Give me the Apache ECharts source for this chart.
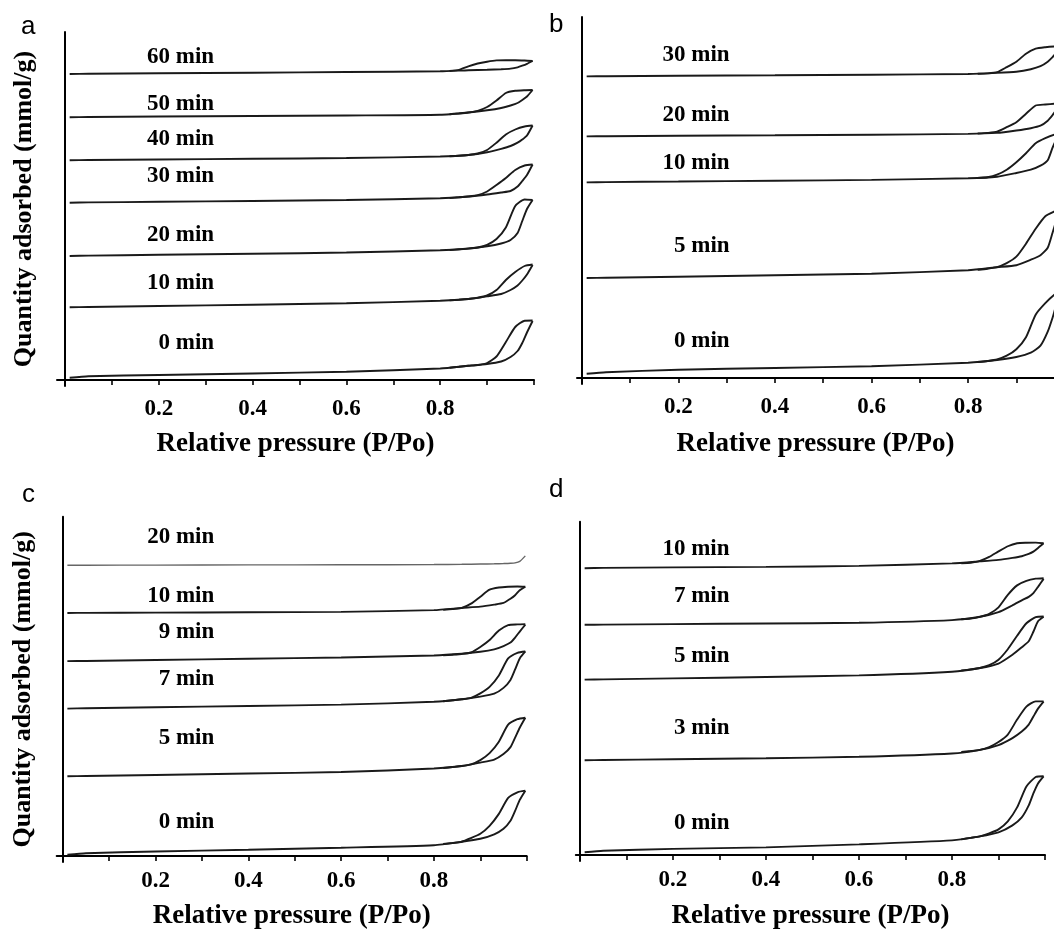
<!DOCTYPE html>
<html><head><meta charset="utf-8">
<script src="https://cdn.jsdelivr.net/npm/echarts@6/dist/echarts.min.js"></script>
<style>html,body{margin:0;padding:0;background:#fff}#c{width:1054px;height:931px}</style>
</head><body><div id="c"></div>
<script>
// Relative pressure grids shared by all isotherms
const adsX = [0.01, 0.05, 0.2, 0.4, 0.6, 0.8, 0.86, 0.9, 0.93, 0.95, 0.965, 0.975, 0.985, 0.997];
const desX = [0.997, 0.98, 0.96, 0.94, 0.92, 0.9, 0.88, 0.86, 0.84, 0.82];
const tickValues = [0.1, 0.2, 0.3, 0.4, 0.5, 0.6, 0.7, 0.8, 0.9, 1.0];
const tickLabels = [0.2, 0.4, 0.6, 0.8];

// Panel a
const aNames = ['60 min', '50 min', '40 min', '30 min', '20 min', '10 min', '0 min'];
const aAds = [
  [30.60,30.62,30.67,30.73,30.80,30.87,30.98,31.03,31.08,31.14,31.27,31.43,31.62,31.90],
  [26.27,26.30,26.35,26.40,26.45,26.52,26.75,26.97,27.20,27.45,27.70,28.00,28.35,29.00],
  [21.97,22.00,22.05,22.12,22.20,22.35,22.50,22.77,23.12,23.40,23.73,24.05,24.45,25.45],
  [17.73,17.76,17.82,17.90,18.00,18.17,18.35,18.55,18.75,18.90,19.35,19.90,20.50,21.55],
  [12.40,12.44,12.52,12.62,12.75,12.97,13.15,13.37,13.65,14.00,14.70,15.90,17.10,18.00],
  [7.27,7.30,7.40,7.53,7.67,7.92,8.10,8.37,8.60,9.00,9.45,9.95,10.55,11.50],
  [0.22,0.37,0.50,0.65,0.83,1.15,1.42,1.60,1.85,2.30,2.90,3.70,4.75,5.90]
];
const aDes = [
  [31.90,31.95,31.98,31.98,31.96,31.83,31.65,31.37,31.02,30.90],
  [29.00,28.98,28.92,28.70,27.95,27.30,26.92,26.75,26.65,26.57],
  [25.45,25.35,25.05,24.55,23.73,23.00,22.65,22.50,22.42,22.37],
  [21.55,21.45,21.00,20.20,19.50,18.85,18.48,18.35,18.27,18.20],
  [18.00,18.05,17.40,15.25,14.10,13.52,13.25,13.14,13.07,13.00],
  [11.55,11.40,10.80,10.00,9.00,8.45,8.22,8.10,8.02,7.96],
  [5.95,5.93,5.30,3.80,2.35,1.70,1.50,1.42,1.32,1.23]
];
const aLabelY = [32.33, 27.6, 24.07, 20.43, 14.47, 9.67, 3.67];

// Panel b
const bNames = ['30 min', '20 min', '10 min', '5 min', '0 min'];
const bAds = [
  [30.16,30.18,30.23,30.27,30.33,30.40,30.51,30.63,30.88,31.18,31.63,32.08,32.63,33.13],
  [24.16,24.18,24.23,24.27,24.33,24.41,24.51,24.75,24.98,25.23,25.73,26.28,26.93,27.43],
  [19.56,19.59,19.65,19.73,19.81,19.98,20.13,20.50,20.83,21.23,21.78,23.03,24.03,24.48],
  [10.00,10.03,10.13,10.28,10.43,10.78,11.08,11.28,11.83,12.28,13.03,14.53,16.03,16.93],
  [0.43,0.58,0.83,1.00,1.18,1.53,1.80,2.10,2.53,3.23,4.63,6.03,7.63,8.73]
];
const bDes = [
  [33.18,33.16,33.08,32.93,32.43,31.63,31.08,30.58,30.46,30.42],
  [27.48,27.43,27.35,27.25,26.43,25.58,25.08,24.63,24.51,24.45],
  [24.53,24.35,23.98,23.48,22.48,21.58,20.83,20.33,20.08,20.01],
  [17.03,16.68,16.18,14.93,13.43,12.13,11.48,11.08,10.93,10.83],
  [8.83,8.38,7.48,6.33,4.08,2.88,2.23,1.85,1.70,1.60]
];
const bLabelY = [32.33, 26.33, 21.5, 13.16, 3.66];

// Panel c
const cNames = ['20 min', '10 min', '9 min', '7 min', '5 min', '0 min'];
const cAds = [
  [29.18,29.19,29.20,29.22,29.23,29.26,29.28,29.31,29.33,29.36,29.39,29.43,29.58,30.13],
  [24.40,24.41,24.43,24.47,24.51,24.68,24.90,25.03,25.23,25.40,25.83,26.18,26.68,27.03],
  [19.56,19.58,19.68,19.80,19.93,20.13,20.30,20.50,20.75,21.08,21.43,21.93,22.53,23.23],
  [14.80,14.83,14.93,15.06,15.20,15.48,15.73,16.00,16.30,16.88,17.68,18.73,19.83,20.53],
  [8.00,8.03,8.13,8.28,8.43,8.78,9.03,9.38,9.68,10.23,10.93,11.88,12.88,13.88],
  [0.13,0.28,0.46,0.63,0.83,1.08,1.43,1.73,2.18,2.73,3.53,4.53,5.63,6.56]
];
const cDes = [
  null,
  [27.03,27.06,27.03,26.95,26.73,26.03,25.33,24.90,24.78,24.71],
  [23.28,23.25,23.18,22.63,21.68,20.98,20.43,20.28,20.21,20.15],
  [20.53,20.40,19.83,18.13,16.98,16.33,15.88,15.73,15.63,15.53],
  [13.88,13.73,13.18,11.48,10.33,9.63,9.20,9.03,8.93,8.83],
  [6.56,6.40,5.83,4.23,3.03,2.23,1.80,1.43,1.31,1.20]
];
const cLabelY = [32.06, 26.13, 22.46, 17.73, 11.8, 3.4];

// Panel d
const dNames = ['10 min', '7 min', '5 min', '3 min', '0 min'];
const dAds = [
  [28.74,28.77,28.82,28.87,28.97,29.22,29.42,29.57,29.77,29.94,30.17,30.40,30.77,31.24],
  [23.07,23.09,23.14,23.20,23.27,23.54,23.87,24.34,25.02,25.52,25.87,26.24,26.87,27.67],
  [17.57,17.60,17.70,17.84,18.00,18.37,18.74,19.19,20.07,20.82,21.42,22.37,23.42,23.87],
  [9.50,9.52,9.60,9.70,9.84,10.17,10.54,11.02,11.72,12.37,13.07,13.87,14.67,15.37],
  [0.27,0.42,0.62,0.77,1.07,1.47,1.87,2.27,2.97,3.77,4.97,6.17,7.17,7.87]
];
const dDes = [
  [31.24,31.30,31.29,31.24,30.94,30.42,29.87,29.47,29.29,29.24],
  [27.74,27.69,27.47,27.02,26.07,24.82,24.17,23.87,23.70,23.62],
  [23.90,23.84,23.22,21.97,20.62,19.57,19.02,18.74,18.60,18.49],
  [15.40,15.40,14.87,13.57,12.07,11.32,10.82,10.54,10.42,10.32],
  [7.90,7.82,6.87,4.77,3.37,2.57,2.17,1.87,1.72,1.57]
];
const dLabelY = [30.67, 25.9, 19.97, 12.74, 3.24];

const panels = [
  {letter:'a', names:aNames, ads:aAds, des:aDes, labelY:aLabelY, labelX:0.318,
   grid:{left:57, top:32, width:477, height:354}, xMin:-0.017, xMax:1.0, yMax:34.8,
   yName:true, labelMargin:12, nameGap:45, letterPos:[29,29]},
  {letter:'b', names:bNames, ads:bAds, des:bDes, labelY:bLabelY, labelX:0.306,
   grid:{left:577, top:17, width:477, height:367}, xMin:-0.01, xMax:0.978, yMax:36.1,
   yName:false, labelMargin:12, nameGap:47, letterPos:[557,27]},
  {letter:'c', names:cNames, ads:cAds, des:cDes, labelY:cLabelY, labelX:0.3265,
   grid:{left:56.7, top:516.7, width:470, height:346.6}, xMin:-0.013, xMax:1.0, yMax:34.06,
   yName:true, labelMargin:8, nameGap:41, letterPos:[30,497]},
  {letter:'d', names:dNames, ads:dAds, des:dDes, labelY:dLabelY, labelX:0.3215,
   grid:{left:575.8, top:521.7, width:469.2, height:340}, xMin:-0.009, xMax:1.0, yMax:33.4,
   yName:false, labelMargin:8, nameGap:42, letterPos:[557,492]}
];

const serif = 'Liberation Serif, Times New Roman, serif';
const grids = [], xAxes = [], yAxes = [], series = [], graphics = [];

panels.forEach((p, i) => {
  grids.push(Object.assign({containLabel:false}, p.grid));
  xAxes.push({
    type:'value', gridIndex:i, min:p.xMin, max:p.xMax,
    name:'Relative pressure (P/Po)', nameLocation:'middle', nameGap:p.nameGap,
    nameTextStyle:{fontFamily:serif, fontWeight:'bold', fontSize:27, color:'#000'},
    axisLine:{onZero:true, lineStyle:{color:'#000', width:2}},
    axisTick:{show:true, customValues:tickValues, length:5, lineStyle:{color:'#000', width:1.6}},
    axisLabel:{show:true, customValues:tickLabels, margin:p.labelMargin, formatter:v=>v.toFixed(1),
      fontFamily:serif, fontWeight:'bold', fontSize:23, color:'#000'},
    splitLine:{show:false}
  });
  yAxes.push({
    type:'value', gridIndex:i, min:-0.6, max:p.yMax,
    name:p.yName ? 'Quantity adsorbed (mmol/g)' : '', nameLocation:'middle', nameGap:20, nameRotate:90,
    nameTextStyle:{fontFamily:serif, fontWeight:'bold', fontSize:26, color:'#000'},
    axisLine:{onZero:true, lineStyle:{color:'#000', width:2}},
    axisTick:{show:false}, axisLabel:{show:false}, splitLine:{show:false}
  });
  p.names.forEach((nm, j) => {
    const light = (p.letter === 'c' && j === 0);
    const ls = {color: light ? '#666' : '#1a1a1a', width: light ? 1.4 : 1.9};
    series.push({
      type:'line', xAxisIndex:i, yAxisIndex:i, name:nm + ' ads', showSymbol:false, symbol:'none',
      smooth:0.2, clip:true, lineStyle:ls, silent:true,
      data: adsX.map((x, k) => [x, p.ads[j][k]])
    });
    if (p.des[j]) {
      series.push({
        type:'line', xAxisIndex:i, yAxisIndex:i, name:nm + ' des', showSymbol:false, symbol:'none',
        smooth:0.2, clip:true, lineStyle:ls, silent:true,
        data: desX.map((x, k) => [x, p.des[j][k]])
      });
    }
  });
  series.push({
    type:'scatter', xAxisIndex:i, yAxisIndex:i, symbolSize:0, silent:true,
    itemStyle:{opacity:1},
    data: p.names.map((nm, j) => [p.labelX, p.labelY[j], nm]),
    label:{show:true, position:[0,0], align:'right', verticalAlign:'middle', opacity:1,
      formatter: q => q.data[2], fontFamily:serif, fontWeight:'bold', fontSize:23, color:'#000'}
  });
  graphics.push({type:'text', left:p.letterPos[0]-8, top:p.letterPos[1]-15,
    style:{text:p.letter, font:'26px Liberation Sans, Arial, sans-serif', fill:'#000'}});
});

const chart = echarts.init(document.getElementById('c'), null, {renderer:'canvas'});
chart.setOption({
  animation:false, backgroundColor:'#fff',
  grid:grids, xAxis:xAxes, yAxis:yAxes, series:series, graphic:graphics
});
</script></body></html>
